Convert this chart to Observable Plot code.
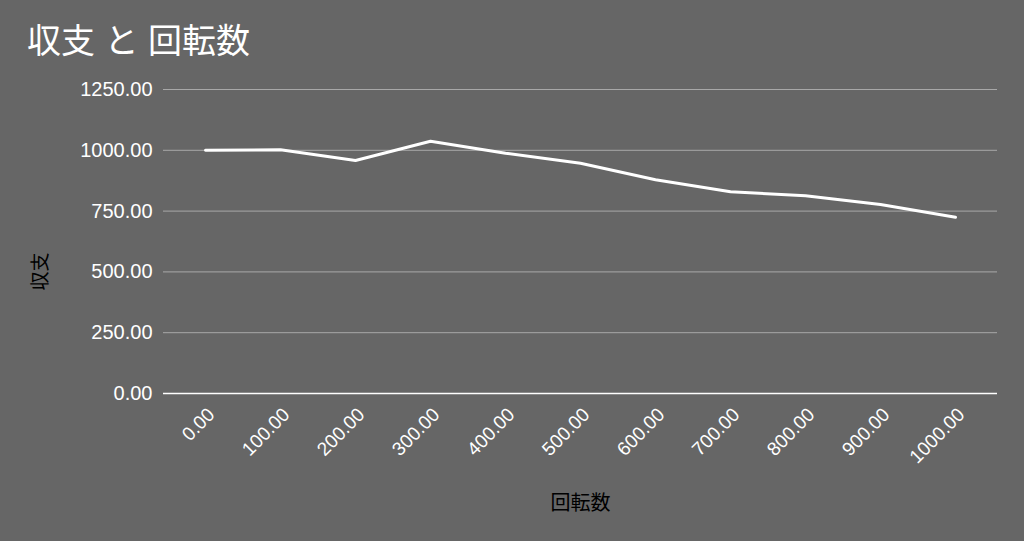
<!DOCTYPE html>
<html>
<head>
<meta charset="utf-8">
<script src="https://cdn.jsdelivr.net/npm/d3@7"></script>
<script src="https://cdn.jsdelivr.net/npm/@observablehq/plot@0.6"></script>
<style>
  html, body { margin: 0; padding: 0; background: #666666; width: 1024px; height: 541px; overflow: hidden; }
  #title { height: 70px; box-sizing: border-box; padding: 21px 0 0 27px; color: #ffffff; font-family: "Liberation Sans", Arial, "Noto Sans CJK JP", sans-serif; font-size: 34px; line-height: 40px; }
  #chart svg { display: block; }
</style>
</head>
<body>
<div id="title">収支 と 回転数</div>
<div id="chart"></div>
<script>
const titleText = "収支 と 回転数";
const xLabel = "回転数";
const yLabel = "収支";
const spins = [0, 100, 200, 300, 400, 500, 600, 700, 800, 900, 1000];
const balance = [1000, 1002, 958, 1037, 988, 947, 879, 830, 813, 777, 725];
const yTicks = [0, 250, 500, 750, 1000, 1250];

const data = spins.map((s, i) => ({spins: s, balance: balance[i]}));
const fmt = d3.format(".2f");
const font = "'Liberation Sans', Arial, 'Noto Sans CJK JP', sans-serif";

const chart = Plot.plot({
  width: 1024,
  height: 471,
  marginTop: 19,
  marginBottom: 148,
  marginLeft: 163,
  marginRight: 27,
  style: {background: "#666666", fontFamily: font, fontSize: "19px", color: "#ffffff", overflow: "visible"},
  x: {type: "point", domain: spins, padding: 0.5},
  y: {domain: [0, 1250]},
  marks: [
    Plot.gridY(yTicks.filter(d => d !== 0), {stroke: "#a8a8a8", strokeOpacity: 1, strokeWidth: 1}),
    Plot.ruleY([0], {stroke: "#ffffff", strokeWidth: 1.6}),
    Plot.axisY(yTicks, {tickSize: 0, tickPadding: 11, tickFormat: fmt, fill: "#ffffff", label: null, fontSize: 20}),
    Plot.axisX(spins, {tickSize: 0, tickPadding: 18, dx: 6, tickRotate: -45, tickFormat: fmt, fill: "#ffffff", label: null, fontSize: 19}),
    Plot.line(data, {x: "spins", y: "balance", stroke: "#ffffff", strokeWidth: 3}),
    Plot.text([yLabel], {frameAnchor: "left", dx: -123, dy: 49, rotate: -90, fill: "#000000", fontSize: 19}),
    Plot.text([xLabel], {frameAnchor: "bottom", dy: 116, fill: "#000000", fontSize: 20})
  ]
});
document.getElementById("chart").appendChild(chart);
</script>
</body>
</html>
